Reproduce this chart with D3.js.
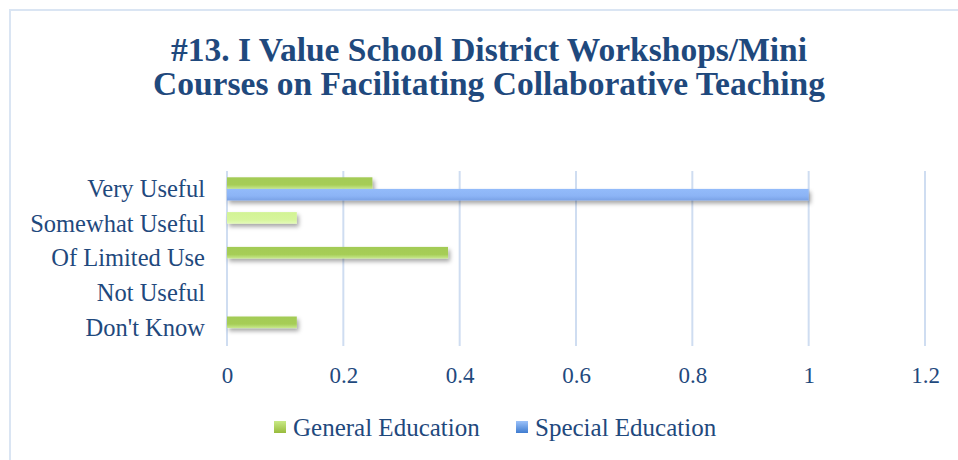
<!DOCTYPE html>
<html>
<head>
<meta charset="utf-8">
<script src="https://cdn.jsdelivr.net/npm/d3@7"></script>
<style>
  html, body { margin: 0; padding: 0; background: #ffffff; }
  svg { display: block; }
</style>
</head>
<body>
<svg id="chart" width="958" height="460"></svg>
<script>
// ---- data ----
const categories = ["Very Useful", "Somewhat Useful", "Of Limited Use", "Not Useful", "Don't Know"];
const seriesNames = ["General Education", "Special Education"];
const generalValues = [0.25, 0.12, 0.38, 0, 0.12];
const specialValues = [1, 0, 0, 0, 0];
const tickValues = [0, 0.2, 0.4, 0.6, 0.8, 1, 1.2];
const titleLines = ["#13. I Value School District Workshops/Mini", "Courses on Facilitating Collaborative Teaching"];

const textColor = "#1f497d";
const gridColor = "#cfddf1";
const fontFam = "'Liberation Serif', 'Times New Roman', serif";

const svg = d3.select("#chart");
const defs = svg.append("defs");

// gradients
function vGrad(id, stops) {
  const g = defs.append("linearGradient").attr("id", id)
    .attr("x1", 0).attr("y1", 0).attr("x2", 0).attr("y2", 1);
  stops.forEach(s => g.append("stop").attr("offset", s[0]).attr("stop-color", s[1]));
}
vGrad("gGreen", [[0, "#a3cb55"], [0.65, "#a6cd57"], [1, "#c8e98e"]]);
vGrad("gLight", [[0, "#d2f394"], [0.65, "#d6f59c"], [1, "#e4fbb8"]]);
vGrad("gBlue", [[0, "#93bbfa"], [0.6, "#8cb4f6"], [1, "#7aa2e6"]]);
vGrad("lGreen", [[0, "#c9ea86"], [1, "#98bb3c"]]);
vGrad("lBlue", [[0, "#9cc2fa"], [1, "#3f7cd0"]]);

const shadow = defs.append("filter").attr("id", "shadow")
  .attr("x", "-10%").attr("y", "-50%").attr("width", "130%").attr("height", "250%");
shadow.append("feDropShadow").attr("dx", 2).attr("dy", 3).attr("stdDeviation", 2)
  .attr("flood-color", "#000").attr("flood-opacity", 0.35);

// chart border
svg.append("rect").attr("x", 10).attr("y", 10).attr("width", 960).attr("height", 470)
  .attr("fill", "none").attr("stroke", "#dae5f3").attr("stroke-width", 2);

// title
svg.append("text")
  .attr("x", 489).attr("y", 61)
  .attr("text-anchor", "middle")
  .attr("font-family", fontFam)
  .attr("font-weight", "bold").attr("font-size", 33.5)
  .attr("fill", textColor)
  .selectAll("tspan").data(titleLines).join("tspan")
  .attr("x", 489).attr("dy", (d, i) => i === 0 ? 0 : 34)
  .text(d => d);

// scales
const x = d3.scaleLinear().domain([0, 1.2]).range([227, 925]);
const y = d3.scaleBand().domain(categories).range([171.5, 345.5]).paddingInner(0).paddingOuter(0);
const ySub = d3.scaleBand().domain(seriesNames).range([0, y.bandwidth()]).paddingInner(0).paddingOuter(0.5);

// gridlines
svg.append("g").selectAll("line").data(tickValues).join("line")
  .attr("x1", d => x(d)).attr("x2", d => x(d))
  .attr("y1", 171).attr("y2", 346)
  .attr("stroke", gridColor).attr("stroke-width", 2);

// x axis labels
const xAxis = d3.axisBottom(x).tickValues(tickValues).tickSize(0).tickPadding(0)
  .tickFormat(d => d3.format("~g")(d));
const gx = svg.append("g").attr("transform", "translate(0,383)").call(xAxis);
gx.select(".domain").remove();
gx.selectAll("text")
  .attr("dy", 0)
  .attr("font-family", fontFam).attr("font-size", 23)
  .attr("fill", textColor);

// y axis labels
const yAxis = d3.axisLeft(y).tickSize(0).tickPadding(0);
const gy = svg.append("g").attr("transform", "translate(205,0)").call(yAxis);
gy.select(".domain").remove();
gy.selectAll("text")
  .attr("dy", "0.32em")
  .attr("font-family", fontFam).attr("font-size", 24.5)
  .attr("fill", textColor);

// bars
const rows = [];
categories.forEach((c, i) => {
  rows.push({cat: c, series: seriesNames[0], value: generalValues[i],
    fill: c === "Somewhat Useful" ? "url(#gLight)" : "url(#gGreen)"});
  rows.push({cat: c, series: seriesNames[1], value: specialValues[i], fill: "url(#gBlue)"});
});
svg.append("g").selectAll("rect").data(rows.filter(d => d.value > 0)).join("rect")
  .attr("x", x(0))
  .attr("y", d => y(d.cat) + ySub(d.series))
  .attr("width", d => x(d.value) - x(0))
  .attr("height", ySub.bandwidth())
  .attr("fill", d => d.fill)
  .attr("filter", "url(#shadow)");

// legend
const legendItems = [
  {name: seriesNames[0], fill: "url(#lGreen)", x: 274},
  {name: seriesNames[1], fill: "url(#lBlue)", x: 516}
];
const lg = svg.append("g").selectAll("g").data(legendItems).join("g")
  .attr("transform", d => `translate(${d.x},0)`);
lg.append("rect").attr("x", 0).attr("y", 421).attr("width", 12).attr("height", 12)
  .attr("fill", d => d.fill);
lg.append("text").attr("x", 19).attr("y", 436)
  .attr("font-family", fontFam).attr("font-size", 25)
  .attr("fill", textColor)
  .text(d => d.name);
</script>
</body>
</html>
